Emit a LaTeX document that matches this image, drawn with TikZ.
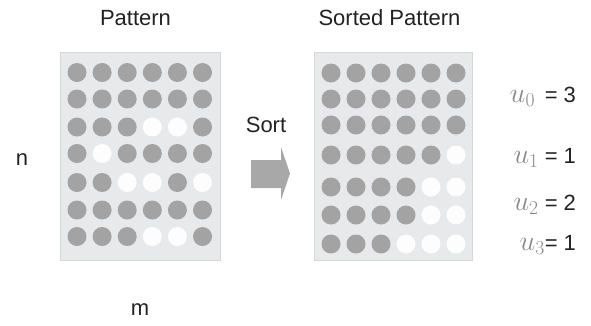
\documentclass[tikz,border=0pt]{standalone}
\usepackage{fix-cm}
\usepackage{fontspec}
\setmainfont{Liberation Sans}
\usetikzlibrary{positioning}
\definecolor{panelgray}{HTML}{E8E9EB}
\definecolor{edgegray}{HTML}{D6D7D9}
\definecolor{dotg}{HTML}{A3A3A3}
\definecolor{dotw}{HTML}{FDFDFD}
\definecolor{arrowgray}{HTML}{A8A8A8}
\definecolor{textdark}{HTML}{222222}
\definecolor{ugray}{HTML}{888888}

\begin{document}
\begin{tikzpicture}[x=1pt,y=-1pt,
      panel/.style={draw=edgegray,fill=panelgray,line width=0.8pt,inner sep=0pt},
      dot/.style={circle,inner sep=0pt,minimum size=19pt},
      label text/.style={font=\fontsize{22}{26}\selectfont,text=textdark,anchor=base},
      count text/.style={font=\fontsize{22}{26}\selectfont,text=textdark,anchor=base east}]
    \useasboundingbox (0,0) rectangle (591,325);
    % the two panels
    \node[panel,minimum width=160.5pt,minimum height=208pt] (left) at (140.25,156) {};
    \node[panel,minimum width=158pt,minimum height=208pt] (right) at (393,156) {};
    \node[label text] (pattern) at (135.5,25) {Pattern};
    \node[label text] (sorted) at (389.5,25) {Sorted Pattern};
    % dots: g = grey, w = white
    \foreach \y/\row [count=\r] in {72.5/{g,g,g,g,g,g},99/{g,g,g,g,g,g},127/{g,g,g,w,w,g},
        153.5/{g,w,g,g,g,g},182.5/{g,g,w,w,g,w},210/{g,g,g,g,g,g},236.5/{g,g,g,w,w,g}}
      \foreach \c [count=\i] in \row
        \node[dot,fill=dot\c] (L-\r-\i) at (77+25.1*\i-25.1,\y) {};
    \foreach \y/\row [count=\r] in {73/{g,g,g,g,g,g},99/{g,g,g,g,g,g},125/{g,g,g,g,g,g},
        155/{g,g,g,g,g,w},187/{g,g,g,g,w,w},215/{g,g,g,g,w,w},244/{g,g,g,w,w,w}}
      \foreach \c [count=\i] in \row
        \node[dot,fill=dot\c] (R-\r-\i) at (331+25*\i-25,\y) {};
    % sort arrow
    \node[label text] (sort) at (266,132) {Sort};
    \fill[arrowgray] (251,160) -- (281,160) -- (281,147) -- (290,173.5)
      -- (281,200) -- (281,188) -- (251,188) -- cycle;
    % axis letters
    \node[label text] (n) at (22,165) {n};
    \node[label text] (m) at (140,315) {m};
    % counts
    \node[count text] (u0) at (579.5,102) {{\fontsize{28}{30}\selectfont\color{ugray}$u_0$}\, = 3};
    \node[count text] (u1) at (579.5,163) {{\fontsize{28}{30}\selectfont\color{ugray}$u_1$} = 1};
    \node[count text] (u2) at (579.5,210) {{\fontsize{28}{30}\selectfont\color{ugray}$u_2$} = 2};
    \node[count text] (u3) at (579.5,250) {{\fontsize{28}{30}\selectfont\color{ugray}$u_3$}= 1};
\end{tikzpicture}
\end{document}
